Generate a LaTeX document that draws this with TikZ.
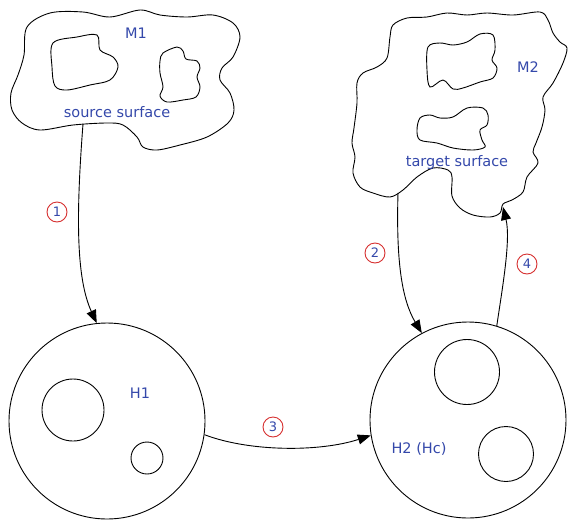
\documentclass[tikz,border=0pt]{standalone}
\usepackage{fontspec}
\setmainfont{DejaVu Sans}
\usetikzlibrary{arrows.meta}
\definecolor{lblue}{RGB}{52,72,170}
\definecolor{lred}{RGB}{214,48,48}
\tikzset{
  outline/.style={draw=black, line width=0.9pt},
  blob/.style={outline, smooth cycle, tension=0.55},
  space/.style={outline, circle, inner sep=0pt},
  lbl/.style={text=lblue, font=\fontsize{14.5}{17}\selectfont},
  stepnum/.style={circle, draw=lred, line width=0.9pt, text=lblue, inner sep=0pt,
                  minimum size=20pt, font=\fontsize{13}{15}\selectfont},
  link/.style={draw=black, line width=0.9pt, -{Triangle[length=13pt,width=10pt]}}
}
\begin{document}
\begin{tikzpicture}[x=1pt,y=-1pt]
\useasboundingbox (0,0) rectangle (568,520);

% source surface M1
\draw[blob] plot coordinates {(27,27) (50,13) (83,12) (110,17) (140,10) (160,15) (187,17)
  (213,15) (233,23) (240,37) (233,57) (222,68) (220,80) (230,93) (234,110) (228,123)
  (207,137) (180,145) (157,150) (143,147) (137,137) (123,125) (107,123) (73,125) (40,130)
  (22,123) (12,110) (11,93) (18,75) (24,55)};
\draw[blob] plot coordinates {(53,43) (77,37) (97,35) (100,50) (113,57) (118,67) (110,80)
  (90,85) (67,90) (55,86) (52,67)};
\draw[blob] plot coordinates {(163,53) (177,47) (183,51) (186,59) (197,61) (200,68) (197,77)
  (200,87) (196,97) (183,100) (167,102) (160,96) (163,87) (160,73) (160,61)};
\node[lbl] (m1) at (136,33) {M1};
\node[lbl] (src) at (117,112) {source surface};
\coordinate (m1out) at (83,124);

% target surface M2
\draw[blob] plot coordinates {(393,25) (407,18) (427,17) (447,13) (467,15) (487,13) (513,15)
  (540,12) (548,20) (553,33) (560,42) (567,48) (563,63) (553,83) (543,97) (545,110)
  (542,127) (536,143) (533,152) (538,163) (527,177) (523,192) (512,200) (503,204) (500,213)
  (490,217) (473,215) (460,208) (452,196) (452,177) (448,170) (433,168) (417,177)
  (403,190) (390,197) (373,193) (360,187) (353,173) (355,157) (352,143) (354,128)
  (357,103) (357,83) (363,73) (377,67) (387,58) (390,37)};
\draw[blob] plot coordinates {(428,47) (440,43) (453,45) (467,42) (480,34) (493,35) (495,50)
  (492,60) (497,68) (493,78) (480,82) (463,88) (453,89) (443,80) (430,87) (427,70)};
\draw[blob] plot coordinates {(420,118) (430,115) (440,118) (453,117) (467,108) (483,108)
  (488,115) (487,125) (480,130) (482,140) (485,147) (473,150) (453,148) (437,143)
  (420,140) (417,130)};
\node[lbl] (m2) at (528,67) {M2};
\node[lbl] (tgt) at (457,162) {target surface};
\coordinate (m2out) at (398,193);
\coordinate (m2in) at (503,207);

% spaces H1 and H2
\node[space, minimum size=196pt] (H1) at (107,421) {};
\node[space, minimum size=62pt] (h1a) at (73,410) {};
\node[space, minimum size=32pt] (h1b) at (147,458) {};
\node[lbl] (h1t) at (140,393) {H1};

\node[space, minimum size=196pt] (H2) at (468,420) {};
\node[space, minimum size=65pt] (h2a) at (467,372) {};
\node[space, minimum size=55pt] (h2b) at (506,454) {};
\node[lbl] (h2t) at (419,449) {H2 (Hc)};

% mappings
\draw[link] (m1out) .. controls (76,215) and (76,278) .. (H1.96);
\draw[link] (H1.-8) .. controls (250,452) and (320,452) .. (H2.189);
\draw[link] (m2out) .. controls (396,262) and (402,300) .. (H2.118);
\draw[link] (H2.73) .. controls (502,290) and (511,240) .. (m2in);

% step numbers
\node[stepnum] (s1) at (57,212) {1};
\node[stepnum] (s2) at (375,253) {2};
\node[stepnum] (s3) at (273,427) {3};
\node[stepnum] (s4) at (527,264) {4};
\end{tikzpicture}
\end{document}
